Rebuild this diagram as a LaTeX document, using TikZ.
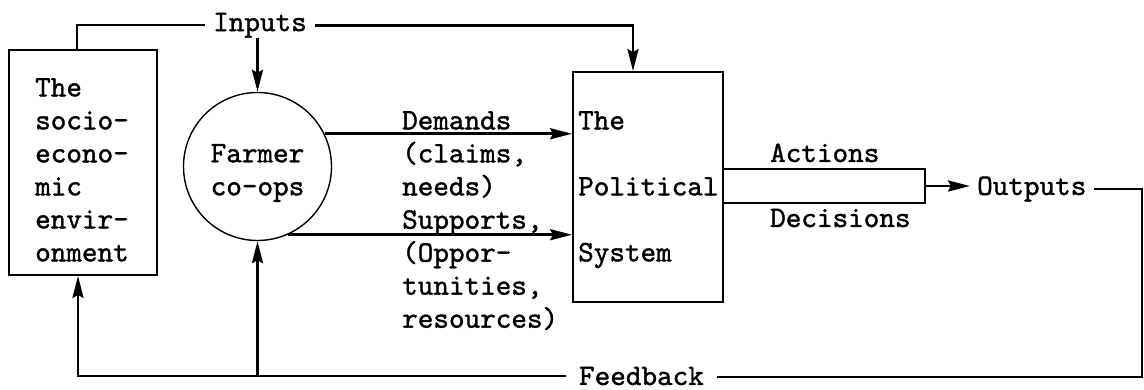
\documentclass[tikz,border=0pt]{standalone}
\usepackage{fontspec}
\usetikzlibrary{arrows.meta}
\newfontfamily\typew{lmmono10-regular}[Extension=.otf,FakeBold=1.3]

\tikzset{
  lbl/.style={font=\typew\fontsize{29.7}{33}\selectfont,inner sep=0pt,align=left},
  blk/.style={draw,line width=1.8pt,inner sep=0pt},
  wire/.style={line width=2.4pt},
  flow/.style={line width=2.8pt,->},
}

\begin{document}
\begin{tikzpicture}[x=1pt,y=-1pt,>={Stealth[length=22pt,width=11pt,inset=3pt]}]
        \useasboundingbox (0,0) rectangle (1144,390) ;
        % the three blocks
        \node[blk,minimum width=148pt,minimum height=225pt] (env) at (83,162.5) {} ;
        \node[blk,circle,line width=1.4pt,minimum size=148pt] (coops) at (257.5,166.5) {} ;
        \node[blk,minimum width=150pt,minimum height=230pt] (pol) at (648,187) {} ;
        \node[lbl,anchor=north west] (envtxt) at (35,78) {The\\socio-\\econo-\\mic\\envir-\\onment} ;
        \node[lbl,align=center] (coopstxt) at (257.5,173) {Farmer\\co-ops} ;
        \node[lbl,anchor=north west] (poltxt) at (578,111) {The\\[33pt]Political\\[33pt]System} ;
        % inputs
        \node[lbl,inner xsep=8pt] (inputs) at (260,25.3) {Inputs} ;
        \draw[wire] ([xshift=-6pt]env.north) |- (inputs.west) ;
        \draw[flow] (inputs.east) -| ([xshift=-15pt]pol.north) ;
        \draw[flow] (inputs.south -| coops.north) -- (coops.north) ;
        % demands and supports
        \draw[flow] (coops.26) -- (coops.26 -| pol.west) ;
        \draw[flow] (coops.-66) -- (coops.-66 -| pol.west) ;
        \node[lbl,anchor=north west] (dem) at (402,111) {Demands\\(claims,\\needs)} ;
        \node[lbl,anchor=north west] (sup) at (402,210) {Supports,\\(Oppor-\\tunities,\\resources)} ;
        % outputs
        \coordinate (join) at (925,186) ;
        \draw[wire] ([yshift=18pt]pol.east) -| (join) |- ([yshift=-16pt]pol.east) ;
        \node[lbl,anchor=base west] (act) at (770,162) {Actions} ;
        \node[lbl,anchor=base west] (dec) at (770,227) {Decisions} ;
        \node[lbl,inner xsep=7pt,anchor=west] (outputs) at (970,189) {Outputs} ;
        \draw[flow] (join) -- (join -| outputs.west) ;
        % feedback
        \node[lbl,inner xsep=13pt] (feedback) at (641.5,376) {Feedback} ;
        \coordinate (rim) at (1142,377) ;
        \draw[wire] (outputs.east) -| (rim) -- (rim -| feedback.east) ;
        \draw[flow] (feedback.west) -| ([xshift=-5pt]env.south) ;
        \draw[flow] (coops.south |- feedback.west) -- (coops.south) ;
\end{tikzpicture}
\end{document}
